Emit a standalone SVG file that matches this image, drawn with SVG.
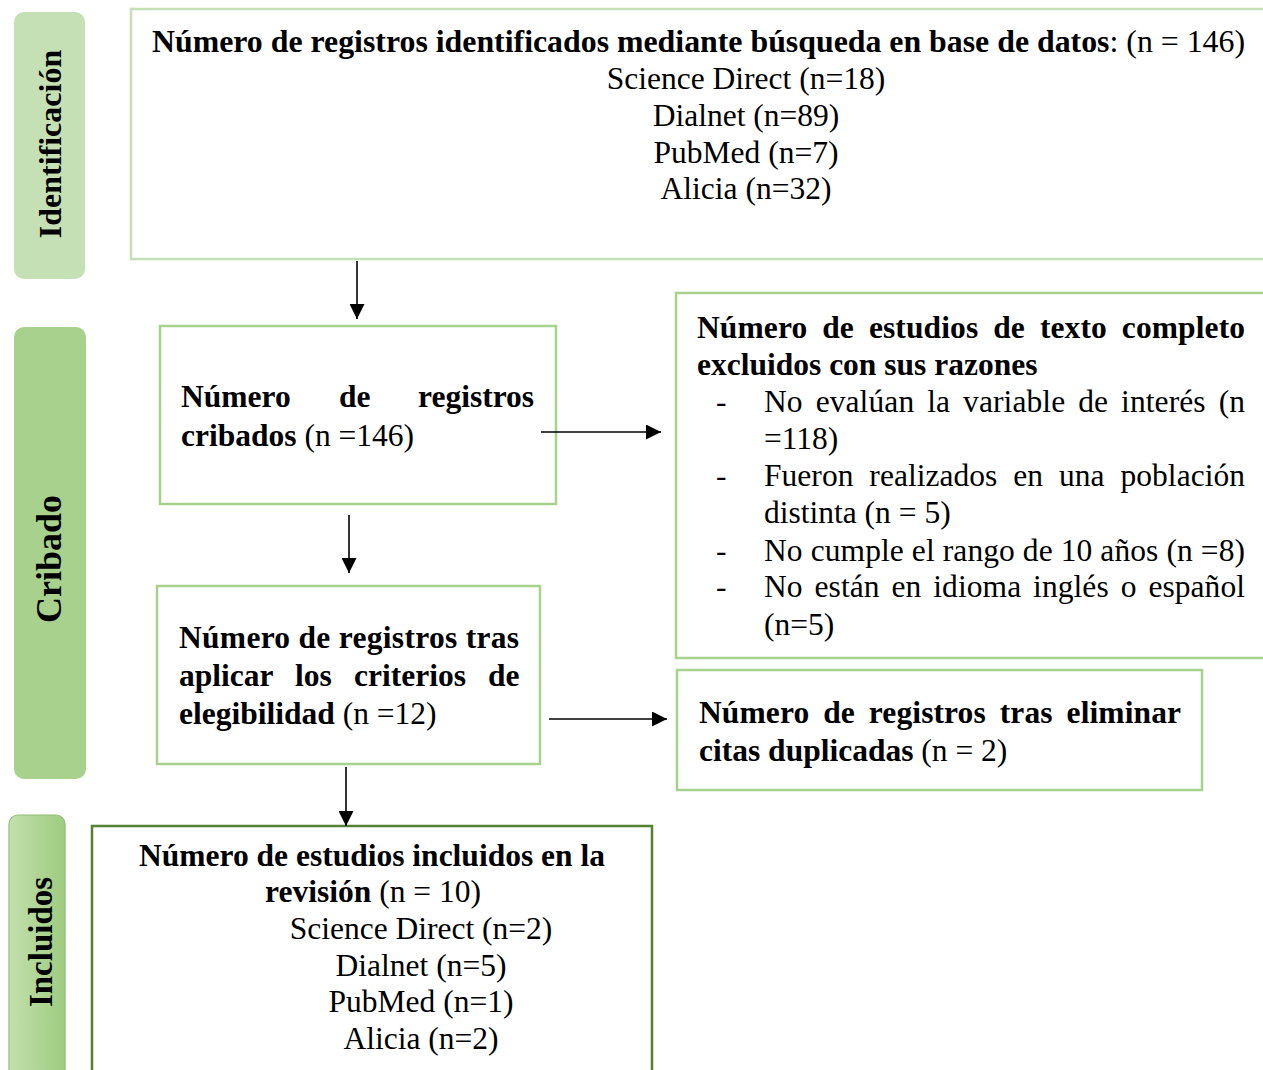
<svg xmlns="http://www.w3.org/2000/svg" width="1263" height="1070" viewBox="0 0 1263 1070">
<style>
text{font-family:"Liberation Serif","Times New Roman",serif;font-size:31.5px;fill:#000}
.b{font-weight:bold}
.side{font-weight:bold;font-size:32px;text-anchor:middle}
.c{text-anchor:middle}
.box{fill:#fff;stroke-width:2.5}
.l1{stroke:#c5e0b4}
.l2{stroke:#a9d18e}
.conn{stroke:#000;stroke-width:1.6;fill:none;marker-end:url(#ah)}
</style>
<defs>
<marker id="ah" viewBox="0 0 10 10" refX="10" refY="5" markerWidth="15" markerHeight="15" markerUnits="userSpaceOnUse" orient="auto"><path d="M0,0 L10,5 L0,10 z" fill="#000"/></marker>
<linearGradient id="gi" x1="0" y1="0" x2="1" y2="0"><stop offset="0" stop-color="#c3e0ae"/><stop offset="1" stop-color="#9ecb80"/></linearGradient>
</defs>
<rect width="1263" height="1070" fill="#fff"/>
<g id="phase-identificacion"><rect x="14" y="12" width="71" height="267" rx="10" fill="#c5e0b4"/><text class="side" transform="translate(61 144) rotate(-90)">Identificación</text></g>
<g id="phase-cribado"><rect x="14" y="327" width="72" height="452" rx="10" fill="#a9d18e"/><text class="side" style="font-size:36px" transform="translate(61 559) rotate(-90)">Cribado</text></g>
<g id="phase-incluidos"><rect x="9" y="815" width="56" height="270" rx="9" fill="url(#gi)" stroke="#8fbd72" stroke-width="1.2"/><text class="side" style="font-size:33px" transform="translate(52 942) rotate(-90)">Incluidos</text></g>
<g id="node-identificados"><rect class="box l1" x="131" y="9" width="1140" height="250"/>
<text x="152" y="52" textLength="1093" lengthAdjust="spacingAndGlyphs"><tspan class="b">Número de registros identificados mediante búsqueda en base de datos</tspan>: (n = 146)</text>
<text class="c" x="746" y="89">Science Direct (n=18)</text>
<text class="c" x="746" y="126">Dialnet (n=89)</text>
<text class="c" x="746" y="163">PubMed (n=7)</text>
<text class="c" x="746" y="199">Alicia (n=32)</text>
</g>
<g id="node-cribados"><rect class="box l2" x="160" y="326" width="396" height="178"/>
<text class="b" y="407"><tspan x="181">Número</tspan><tspan x="339">de</tspan><tspan x="418">registros</tspan></text>
<text x="181" y="446"><tspan class="b">cribados</tspan> (n =146)</text>
</g>
<g id="node-elegibilidad"><rect class="box l2" x="157" y="586" width="383" height="178"/>
<text class="b" x="179" y="648" textLength="340" lengthAdjust="spacing">Número de registros tras</text>
<text class="b" y="686"><tspan x="179">aplicar</tspan><tspan x="295">los</tspan><tspan x="354">criterios</tspan><tspan x="488">de</tspan></text>
<text x="179" y="724"><tspan class="b">elegibilidad</tspan> (n =12)</text>
</g>
<g id="node-excluidos"><rect class="box l2" x="676" y="293" width="600" height="365"/>
<text class="b" x="697" y="338" style="word-spacing:7px" textLength="548" lengthAdjust="spacing">Número de estudios de texto completo</text>
<text class="b" x="697" y="375">excluidos con sus razones</text>
<text x="716" y="412">-</text>
<text x="764" y="412" style="word-spacing:5px" textLength="481" lengthAdjust="spacing">No evalúan la variable de interés (n</text>
<text x="764" y="449">=118)</text>
<text x="716" y="486">-</text>
<text x="764" y="486" style="word-spacing:8px" textLength="481" lengthAdjust="spacing">Fueron realizados en una población</text>
<text x="764" y="523">distinta (n = 5)</text>
<text x="716" y="561">-</text>
<text x="764" y="561" textLength="481" lengthAdjust="spacing">No cumple el rango de 10 años (n =8)</text>
<text x="716" y="597">-</text>
<text x="764" y="597" style="word-spacing:4px" textLength="481" lengthAdjust="spacing">No están en idioma inglés o español</text>
<text x="764" y="635">(n=5)</text>
</g>
<g id="node-duplicados"><rect class="box l2" x="677" y="670" width="525" height="120"/>
<text class="b" x="699" y="723" style="word-spacing:6px" textLength="482" lengthAdjust="spacing">Número de registros tras eliminar</text>
<text x="699" y="761"><tspan class="b">citas duplicadas</tspan> (n = 2)</text>
</g>
<g id="node-incluidos"><rect class="box" stroke="#548235" x="92" y="826" width="560" height="260"/>
<text class="b c" x="372" y="866">Número de estudios incluidos en la</text>
<text class="c" x="373" y="902"><tspan class="b">revisión</tspan> (n = 10)</text>
<text class="c" x="421" y="939">Science Direct (n=2)</text>
<text class="c" x="421" y="976">Dialnet (n=5)</text>
<text class="c" x="421" y="1012">PubMed (n=1)</text>
<text class="c" x="421" y="1049">Alicia (n=2)</text>
</g>
<g id="connectors">
<line class="conn" x1="357" y1="261" x2="357" y2="319"/>
<line class="conn" x1="349" y1="515" x2="349" y2="573"/>
<line class="conn" x1="346" y1="767" x2="346" y2="826"/>
<line class="conn" x1="541" y1="432" x2="661" y2="432"/>
<line class="conn" x1="549" y1="719" x2="667" y2="719"/>
</g>
</svg>
